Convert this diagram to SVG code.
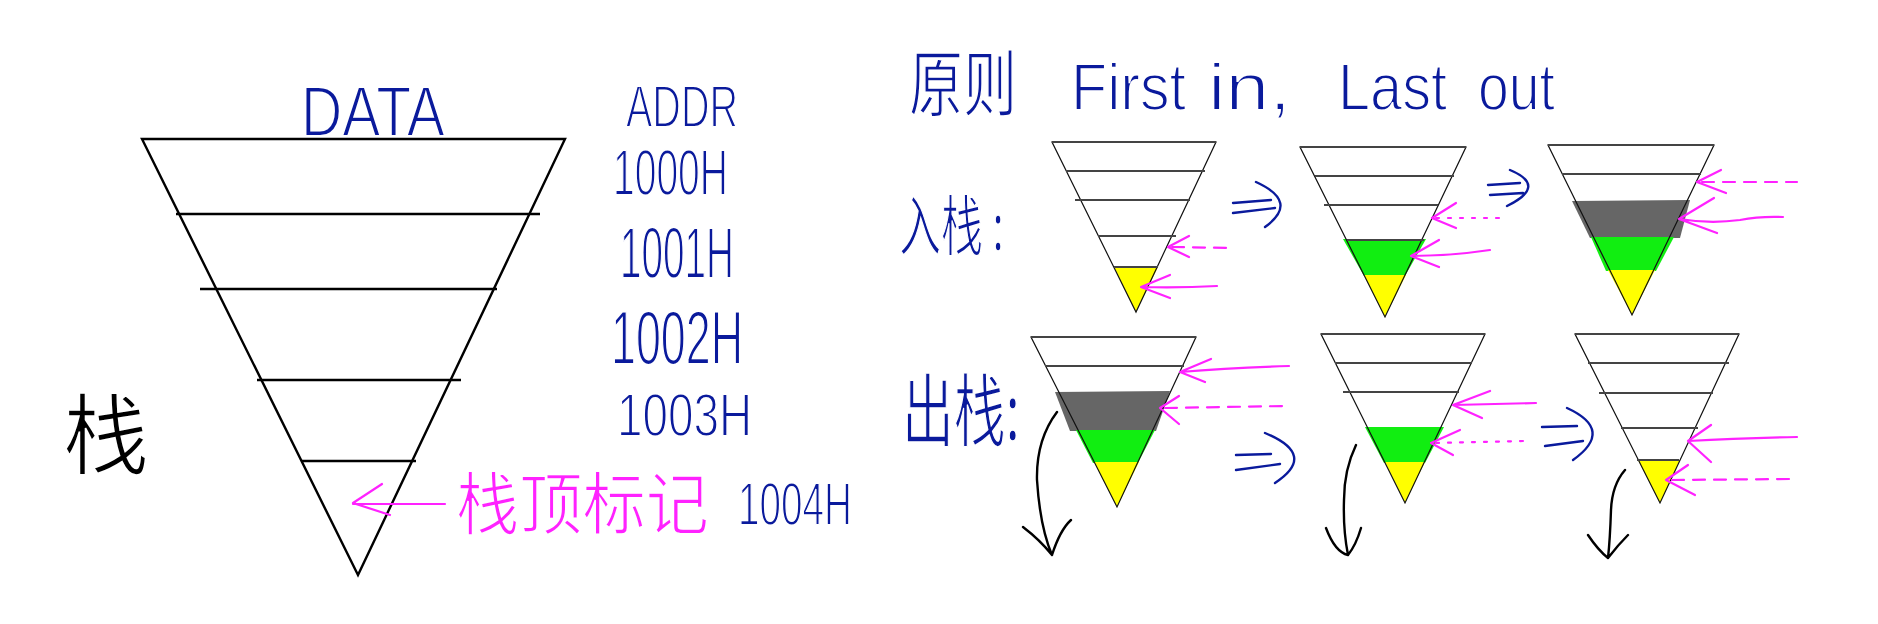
<svg xmlns="http://www.w3.org/2000/svg" width="1878" height="624" viewBox="0 0 1878 624">
<style>
.bg{fill:#ffffff}
.tri{fill:none;stroke:#000;stroke-width:2.4;stroke-linejoin:miter}
.bl{stroke:#000;stroke-width:2.6;fill:none}
.stri{fill:none;stroke:#111;stroke-width:1.2}
.sl{stroke:#444;stroke-width:2;fill:none}
.hw{font-family:"Liberation Sans","Noto Sans CJK SC",sans-serif;fill:#0a1a9c;stroke:#ffffff;stroke-width:1.8}
.cj{font-family:"Noto Sans CJK SC","Liberation Sans",sans-serif;stroke:#ffffff;stroke-width:1.6}
.pk{stroke:#ff22ff;stroke-width:2.2;fill:none;stroke-linecap:round;stroke-linejoin:round}
.dash{stroke-dasharray:12 9}
.dot{stroke-dasharray:3 9}
.imp{stroke:#0a1a9c;stroke-width:2.4;fill:none;stroke-linecap:round}
.down{stroke:#000;stroke-width:2.4;fill:none;stroke-linecap:round;stroke-linejoin:round}
.y{fill:#ffff00}
.g{fill:#11ee11}
.gr{fill:#666666}
</style>
<rect class="bg" x="0" y="0" width="1878" height="624"/>

<g id="big-stack">
  <path class="tri" d="M142,139 L565,139 L358,575 Z"/>
  <line class="bl" x1="176" y1="214" x2="540" y2="214"/>
  <line class="bl" x1="200" y1="289" x2="497" y2="289"/>
  <line class="bl" x1="257" y1="380" x2="461" y2="380"/>
  <line class="bl" x1="301" y1="461" x2="416" y2="461"/>
  <text class="hw" x="301" y="136" font-size="70" textLength="144" lengthAdjust="spacingAndGlyphs">DATA</text>
</g>

<g id="addr-labels">
  <text class="hw" x="626" y="127" font-size="60" textLength="112" lengthAdjust="spacingAndGlyphs">ADDR</text>
  <text class="hw" x="613" y="195" font-size="64" textLength="115" lengthAdjust="spacingAndGlyphs">1000H</text>
  <text class="hw" x="620" y="278" font-size="72" textLength="114" lengthAdjust="spacingAndGlyphs">1001H</text>
  <text class="hw" x="611" y="364" font-size="76" textLength="132" lengthAdjust="spacingAndGlyphs">1002H</text>
  <text class="hw" x="617" y="436" font-size="62" textLength="135" lengthAdjust="spacingAndGlyphs">1003H</text>
  <text class="hw" x="738" y="525" font-size="62" textLength="114" lengthAdjust="spacingAndGlyphs">1004H</text>
</g>

<g id="stack-label">
  <text class="cj" x="63" y="467" font-size="88" textLength="86" lengthAdjust="spacingAndGlyphs" fill="#000">栈</text>
</g>

<g id="top-marker">
  <path class="pk" d="M353,504 L445,504 M382,484 L353,503 L390,515"/>
  <text class="cj" x="456" y="529" font-size="68" textLength="253" lengthAdjust="spacingAndGlyphs" fill="#ff22ff">栈顶标记</text>
</g>

<g id="title">
  <text class="hw" y="110"><tspan class="cj" x="909" font-size="72" textLength="108" lengthAdjust="spacingAndGlyphs">原则</tspan><tspan x="1071" font-size="66" textLength="115" lengthAdjust="spacingAndGlyphs">First</tspan><tspan x="1208" font-size="66" textLength="83" lengthAdjust="spacingAndGlyphs">in,</tspan><tspan x="1338" font-size="66" textLength="109" lengthAdjust="spacingAndGlyphs">Last</tspan><tspan x="1478" font-size="66" textLength="77" lengthAdjust="spacingAndGlyphs">out</tspan></text>
</g>

<g id="push-label">
  <text class="hw cj" x="899" y="250" font-size="66" textLength="105" lengthAdjust="spacingAndGlyphs">入栈 :</text>
</g>
<g id="pop-label">
  <text class="hw cj" x="902" y="440" font-size="80" textLength="118" lengthAdjust="spacingAndGlyphs">出栈:</text>
</g>

<g id="push-1">
  <path class="y" d="M1114,267 L1158,267 L1136,312 Z"/>
  <path class="stri" d="M1052,142 L1216,142 L1136,312 Z"/>
  <line class="sl" x1="1052" y1="142" x2="1216" y2="142"/>
  <line class="sl" x1="1066" y1="171" x2="1205" y2="171"/>
  <line class="sl" x1="1075" y1="200" x2="1190" y2="200"/>
  <line class="sl" x1="1098" y1="236" x2="1176" y2="236"/>
  <line class="sl" x1="1114" y1="267" x2="1158" y2="267"/>
</g>

<g id="push-2">
  <path class="g" d="M1343,239 L1426,239 L1405,276 L1364,276 Z"/>
  <path class="y" d="M1364,275 L1406,275 L1385,317 Z"/>
  <path class="stri" d="M1300,147 L1466,147 L1385,317 Z"/>
  <line class="sl" x1="1300" y1="147" x2="1466" y2="147"/>
  <line class="sl" x1="1315" y1="176" x2="1454" y2="176"/>
  <line class="sl" x1="1324" y1="205" x2="1438" y2="205"/>
  <line class="sl" x1="1347" y1="240" x2="1424" y2="240"/>
</g>

<g id="push-3">
  <path class="gr" d="M1572,201 L1690,200 L1680,238 L1590,238 Z"/>
  <path class="g" d="M1591,237 L1674,237 L1656,271 L1606,271 Z"/>
  <path class="y" d="M1608,270 L1655,270 L1632,315 Z"/>
  <path class="stri" d="M1548,145 L1714,145 L1632,315 Z"/>
  <line class="sl" x1="1548" y1="145" x2="1714" y2="145"/>
  <line class="sl" x1="1562" y1="174" x2="1701" y2="174"/>
</g>

<g id="pop-1">
  <path class="gr" d="M1055,392 L1170,391 L1156,431 L1070,431 Z"/>
  <path class="g" d="M1076,430 L1155,430 L1138,463 L1093,463 Z"/>
  <path class="y" d="M1094,462 L1139,462 L1117,507 Z"/>
  <path class="stri" d="M1031,337 L1196,337 L1117,507 Z"/>
  <line class="sl" x1="1031" y1="337" x2="1196" y2="337"/>
  <line class="sl" x1="1045" y1="366" x2="1184" y2="366"/>
</g>

<g id="pop-2">
  <path class="g" d="M1365,427 L1444,427 L1425,463 L1384,463 Z"/>
  <path class="y" d="M1385,462 L1425,462 L1405,503 Z"/>
  <path class="stri" d="M1321,334 L1485,334 L1405,503 Z"/>
  <line class="sl" x1="1321" y1="334" x2="1485" y2="334"/>
  <line class="sl" x1="1335" y1="363" x2="1472" y2="363"/>
  <line class="sl" x1="1343" y1="392" x2="1459" y2="392"/>
</g>

<g id="pop-3">
  <path class="y" d="M1638,460 L1680,460 L1660,503 Z"/>
  <path class="stri" d="M1575,334 L1739,334 L1660,503 Z"/>
  <line class="sl" x1="1575" y1="334" x2="1739" y2="334"/>
  <line class="sl" x1="1588" y1="363" x2="1729" y2="363"/>
  <line class="sl" x1="1599" y1="393" x2="1713" y2="393"/>
  <line class="sl" x1="1621" y1="428" x2="1698" y2="428"/>
  <line class="sl" x1="1637" y1="460" x2="1679" y2="460"/>
</g>

<g id="connectors">
  <path class="pk dash" d="M1172,247 L1233,248"/>
  <path class="pk" d="M1189,236 L1168,247 L1189,257"/>
  <path class="pk" d="M1141,287 Q1180,288 1217,286 M1170,275 L1141,287 L1170,298"/>
  <path class="pk dot" d="M1436,218 L1507,218"/>
  <path class="pk" d="M1456,203 L1432,218 L1456,228"/>
  <path class="pk" d="M1411,256 Q1450,256 1490,250 M1439,240 L1411,256 L1439,267"/>
  <path class="pk dash" d="M1702,182 L1797,182"/>
  <path class="pk" d="M1721,170 L1697,182 L1726,193"/>
  <path class="pk" d="M1679,219 Q1710,224 1740,220 Q1760,216 1783,217 M1714,198 L1679,219 L1717,233"/>
  <path class="pk" d="M1180,372 Q1230,368 1289,366 M1211,359 L1180,372 L1205,382"/>
  <path class="pk dash" d="M1165,408 L1284,406"/>
  <path class="pk" d="M1179,396 L1160,408 L1179,424"/>
  <path class="pk" d="M1453,405 L1536,403 M1490,391 L1453,405 L1482,418"/>
  <path class="pk dot" d="M1436,443 L1523,441"/>
  <path class="pk" d="M1460,430 L1431,443 L1453,455"/>
  <path class="pk" d="M1688,441 Q1740,438 1797,437 M1711,425 L1688,441 L1711,462"/>
  <path class="pk dash" d="M1672,480 L1790,479"/>
  <path class="pk" d="M1688,465 L1666,480 L1695,495"/>
  <path class="imp" d="M1233,203 L1271,200 M1233,213 L1275,208 M1256,182 Q1300,202 1265,227"/>
  <path class="imp" d="M1488,185 L1520,183 M1490,195 L1523,193 M1510,170 Q1548,186 1507,206"/>
  <path class="imp" d="M1236,455 L1271,454 M1236,470 L1280,464 M1265,433 Q1318,455 1275,483"/>
  <path class="imp" d="M1542,427 L1577,426 M1545,446 L1583,441 M1567,408 Q1615,430 1573,460"/>
  <path class="down" d="M1057,412 Q1036,440 1037,480 Q1040,527 1052,555 M1023,527 Q1040,540 1052,555 Q1060,530 1071,520"/>
  <path class="down" d="M1356,445 Q1344,470 1344,500 Q1343,530 1348,555 M1326,528 Q1335,552 1348,555 Q1356,545 1361,528"/>
  <path class="down" d="M1625,470 Q1612,485 1611,510 Q1610,540 1608,558 M1588,535 Q1598,550 1608,558 Q1618,545 1628,535"/>
</g>
</svg>
